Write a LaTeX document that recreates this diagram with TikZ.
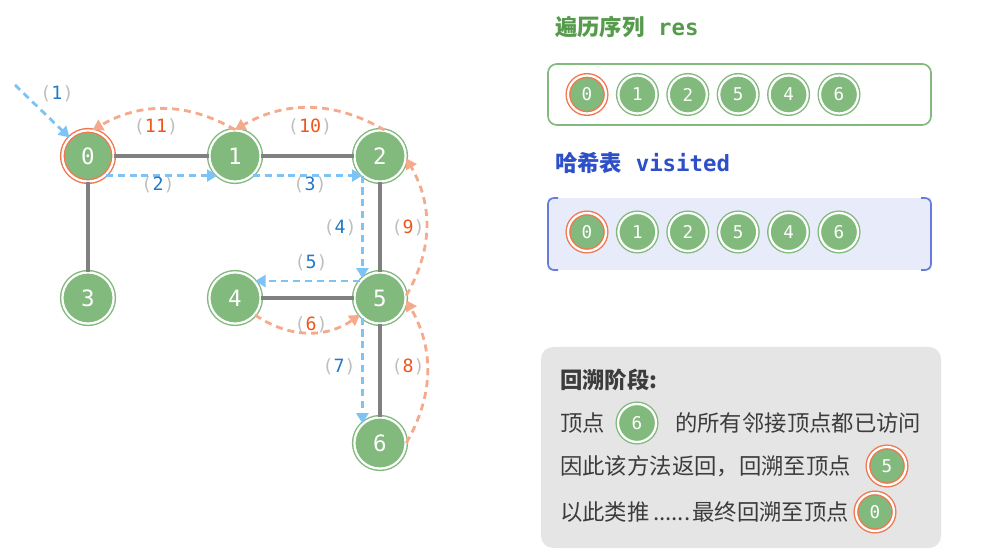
\documentclass[tikz,border=0pt]{standalone}
\usepackage{fontspec}
\setmainfont{Noto Sans CJK SC}
\setmonofont{DejaVu Sans Mono}
\usetikzlibrary{arrows.meta,positioning}
\definecolor{vgreen}{RGB}{130,185,125}
\definecolor{ringorange}{RGB}{240,120,80}
\definecolor{edgegray}{RGB}{128,128,128}
\definecolor{fwdblue}{RGB}{125,195,245}
\definecolor{backorange}{RGB}{245,170,140}
\definecolor{numblue}{RGB}{35,120,200}
\definecolor{numorange}{RGB}{240,85,30}
\definecolor{parengray}{RGB}{190,190,190}
\definecolor{titlegreen}{RGB}{85,155,75}
\definecolor{titleblue}{RGB}{45,80,200}
\definecolor{hashfill}{RGB}{232,236,250}
\definecolor{hashline}{RGB}{100,125,220}
\definecolor{panelgray}{RGB}{229,229,229}
\definecolor{textgray}{RGB}{60,60,60}
\tikzset{vert/.style={circle,fill=vgreen,draw=vgreen,double=white,double distance=1.6pt,line width=1pt,minimum size=1.28cm,inner sep=0pt,text=white,font=\ttfamily\fontsize{16}{16}\selectfont},cur/.style={vert,draw=ringorange},small/.style={vert,minimum size=0.95cm,font=\ttfamily\fontsize{12.5}{12.5}\selectfont},smallcur/.style={small,draw=ringorange},edge/.style={line width=2.2pt,edgegray},fwd/.style={line width=2pt,fwdblue,dash pattern=on 5pt off 3.5pt,-{Triangle[length=2.6mm,width=3mm]}},back/.style={line width=2pt,backorange,dash pattern=on 5pt off 3.5pt,-{Triangle[length=2.6mm,width=3mm]}},lab/.style={font=\ttfamily\fontsize{13}{13}\selectfont,text=parengray,inner sep=1pt},title/.style={font=\bfseries\fontsize{15.9}{18}\selectfont,anchor=west,inner sep=0pt},txt/.style={font=\fontsize{15.9}{18}\selectfont,text=textgray,anchor=west,inner sep=0pt}}
\begin{document}
\begin{tikzpicture}[x=1cm,y=1cm]
\path[use as bounding box] (0,0) rectangle (24.6,13.8);
\node[cur] (n0) at (2.2,9.9) {0};
\foreach \name/\xx/\yy in {1/5.875/9.9,2/9.5/9.9,3/2.2/6.35,4/5.875/6.35,5/9.5/6.35,6/9.5/2.725}
\node[vert] (n\name) at (\xx,\yy) {\name};
\foreach \a/\b in {0/1,1/2,0/3,2/5,4/5,5/6}
\draw[edge] (n\a)--(n\b);
\coordinate (s) at (0.375,11.675);
\draw[fwd] (s)--(n0.135);
\draw[fwd] (n0.-48)--(n1.228);
\draw[fwd] (n1.-48)--(n2.228);
\draw[fwd] (n2.228)--(n5.132);
\draw[fwd] (n5.140)--(n4.40);
\draw[back] (n4.-40) to[bend right=35] (n5.220);
\draw[fwd] (n5.228)--(n6.132);
\draw[back] (n6.east) to[out=60,in=-60] (n5.-5);
\draw[back] (n5.5) to[out=60,in=-60] (n2.-5);
\draw[back] (n2.80) to[bend right=30] (n1.90);
\draw[back] (n1.90) to[bend right=30] (n0.80);
\foreach \txt/\col/\xx/\yy in {1/numblue/1.425/11.45,2/numblue/3.95/9.175,3/numblue/7.75/9.175,4/numblue/8.5/8.1,5/numblue/7.775/7.225,6/numorange/7.775/5.675,7/numblue/8.475/4.625,8/numorange/10.2/4.625,9/numorange/10.2/8.1,10/numorange/7.75/10.625,11/numorange/3.9/10.625}
\node[lab] (l\txt) at (\xx,\yy) {(\textcolor{\col}{\txt})};
\node[title,text=titlegreen] (tres) at (13.875,13.125) {遍历序列\texttt{ res}};
\draw[vgreen,line width=1.2pt,rounded corners=0.22cm] (13.7,10.675) rectangle (23.275,12.2);
\foreach \v/\sty [count=\i] in {0/smallcur,1/small,2/small,5/small,4/small,6/small}
\node[\sty] (r\v) at ({14.675+1.26*(\i-1)},11.4375) {\v};
\node[title,text=titleblue] (tvis) at (13.875,9.725) {哈希表\texttt{ visited}};
\fill[hashfill] (13.7,7.05) rectangle (23.275,8.85);
\draw[hashline,line width=1.2pt,rounded corners=0.15cm] (13.95,8.85)--(13.7,8.85)--(13.7,7.05)--(13.95,7.05);
\draw[hashline,line width=1.2pt,rounded corners=0.15cm] (23.025,8.85)--(23.275,8.85)--(23.275,7.05)--(23.025,7.05);
\foreach \v/\sty [count=\i] in {0/smallcur,1/small,2/small,5/small,4/small,6/small}
\node[\sty] (h\v) at ({14.675+1.26*(\i-1)},8.0) {\v};
\fill[panelgray,rounded corners=0.3cm] (13.525,0.1) rectangle (23.525,5.125);
\node[txt,font=\bfseries\fontsize{15.9}{18}\selectfont] (bt) at (14.0,4.3) {回溯阶段:};
\node[txt] (t2a) at (14.0,3.225) {顶点};
\node[small] (p6) at (15.925,3.225) {6};
\node[txt] (t2b) at (16.875,3.225) {的所有邻接顶点都已访问};
\node[txt] (t3) at (14.0,2.15) {因此该方法返回，回溯至顶点};
\node[smallcur] (p5) at (22.175,2.15) {5};
\node[txt] (t4) at (14.0,1.0) {以此类推\hspace{0.15em}......\hspace{0.1em}最终回溯至顶点};
\node[smallcur] (p0) at (21.875,1.0) {0};
\end{tikzpicture}
\end{document}
